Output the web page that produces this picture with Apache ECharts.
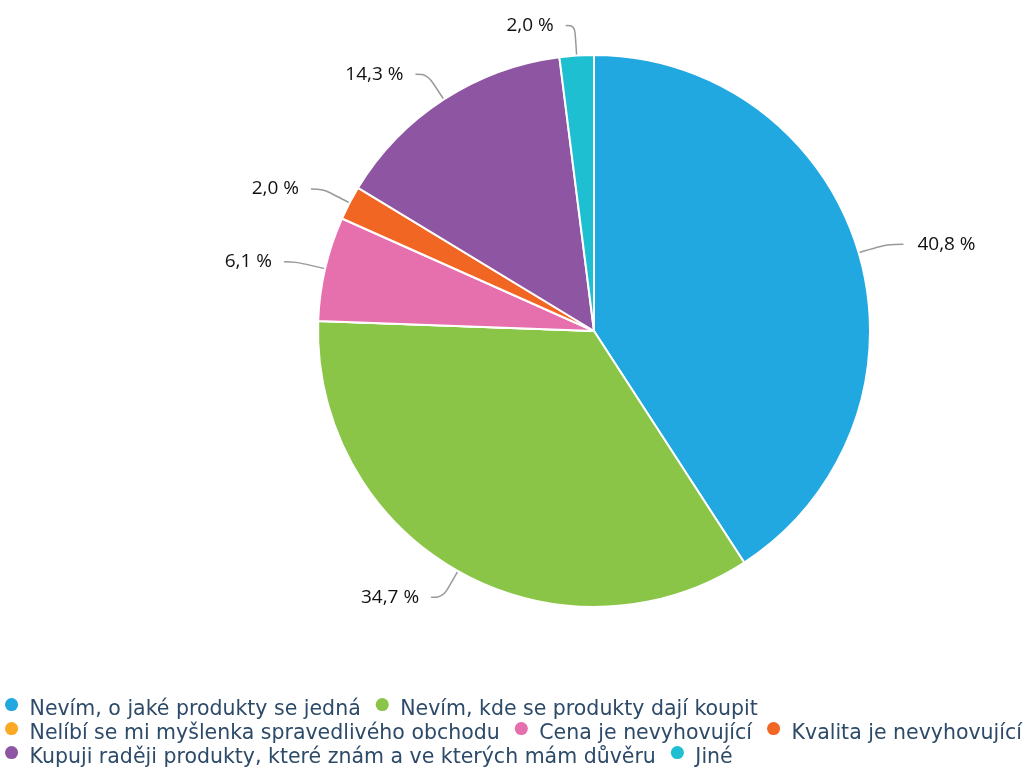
<!DOCTYPE html>
<html>
<head>
<meta charset="utf-8">
<style>
  html, body { margin: 0; padding: 0; background: #ffffff; }
  #chart { width: 1032px; height: 767px; }
</style>
<script src="https://cdn.jsdelivr.net/npm/echarts@6/dist/echarts.min.js"></script>
</head>
<body>
<div id="chart"></div>
<script>
// Reasons for not buying fair-trade products (share of answers, %)
const categories = [
  'Nevím, o jaké produkty se jedná',
  'Nevím, kde se produkty dají koupit',
  'Nelíbí se mi myšlenka spravedlivého obchodu',
  'Cena je nevyhovující',
  'Kvalita je nevyhovující',
  'Kupuji raději produkty, které znám a ve kterých mám důvěru',
  'Jiné'
];
const shares = [40.8, 34.7, 0, 6.1, 2.0, 14.3, 2.0];
const colors = ['#21a8e0', '#8bc548', '#fba825', '#e66fae', '#f26624', '#8e56a2', '#1dbfd0'];

// per-slice tweaks of the leader lines on the right-hand side
const leaderTweaks = {
  0: { length2: 16, distance: 14 },
  6: { length2: 9, distance: 12 }
};

const data = categories.map((name, i) => {
  const item = { name: name, value: shares[i], itemStyle: { color: colors[i] } };
  if (shares[i] === 0) {
    item.label = { show: false };
    item.labelLine = { show: false };
  } else if (leaderTweaks[i]) {
    item.label = { distanceToLabelLine: leaderTweaks[i].distance };
    item.labelLine = { length2: leaderTweaks[i].length2 };
  }
  return item;
});

// round marker sitting in the upper part of its box (the trailing move-to
// only extends the box downwards, so the dot rides above the text middle)
const legendDot = 'path://M6,0A6,6,0,1,1,6,12A6,6,0,1,1,6,0ZM6,22';

const chart = echarts.init(document.getElementById('chart'), null, { renderer: 'canvas' });
chart.setOption({
  animation: false,
  backgroundColor: '#ffffff',
  legend: {
    orient: 'horizontal',
    left: 5,
    top: 698,
    width: 1060,
    icon: legendDot,
    itemWidth: 26,
    itemHeight: 24,
    itemGap: 0,
    padding: 0,
    itemStyle: { borderWidth: 0 },
    textStyle: {
      fontFamily: '"DejaVu Sans"',
      fontSize: 20.5,
      color: '#2d4a68',
      lineHeight: 18,
      padding: [0, 15, 0, 0]
    },
    data: categories
  },
  series: [{
    type: 'pie',
    center: [594, 331],
    radius: [0, 276],
    startAngle: 90,
    clockwise: true,
    avoidLabelOverlap: false,
    itemStyle: { borderColor: '#ffffff', borderWidth: 2 },
    label: {
      show: true,
      fontFamily: '"Open Sans"',
      fontSize: 19,
      color: '#111111',
      distanceToLabelLine: 12,
      formatter: p => p.value.toFixed(1).replace('.', ',') + ' %'
    },
    labelLine: {
      show: true,
      length: 30,
      length2: 12,
      smooth: 0.4,
      lineStyle: { color: '#999999', width: 1.5 }
    },
    emphasis: { disabled: true },
    data: data
  }]
});
</script>
</body>
</html>
